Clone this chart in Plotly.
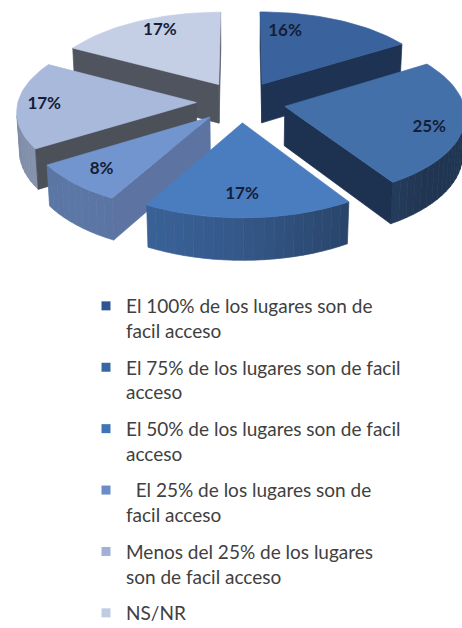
import numpy as np
import plotly.graph_objects as go

# Survey answers (legend order) and their shares in percent
categories = [
    "El 100% de los lugares son de<br>facil acceso",
    "El 75% de los lugares son de facil<br>acceso",
    "El 50% de los lugares son de facil<br>acceso",
    "\u00a0\u00a0El 25% de los lugares son de<br>facil acceso",
    "Menos del 25% de los lugares<br>son de facil acceso",
    "NS/NR",
]
values = [16, 25, 17, 8, 17, 17]

# Colours: top face, radial cut face, legend swatch
top_colors = ["#3A629D", "#4470AA", "#4A7CC0", "#7395CF", "#A9B9DC", "#C4CFE6"]
cut_colors = ["#1E3354", "#1D3151", "#2B4E80", "#5D74A2", "#4B5059", "#4F545E"]
legend_colors = ["#2F5592", "#3866A3", "#3F74B8", "#6A8CC8", "#A0B0D8", "#C0CBE3"]

# Percentage label placement on each top face (radius fraction, turn in degrees)
label_r = [0.72, 0.82, 0.77, 0.81, 0.85, 0.82]
label_turn = [-17, 5, 2, 0, 0, 4]

# Pseudo-3D view settings (pie radius = 1)
ELEV = np.radians(28.7)
SIN_E, COS_E = np.sin(ELEV), np.cos(ELEV)
DIST = 11 * COS_E
FOCAL = 1700.0
THICK = 0.25
PULL = 0.25
CAM = np.array([0.0, -DIST * COS_E, DIST * SIN_E])
LIGHT = np.array([-0.7071, -0.7071])


def project(u, v, z):
    u, v, z = np.asarray(u, float), np.asarray(v, float), np.asarray(z, float)
    depth = v * COS_E + DIST - z * SIN_E
    return FOCAL * u / depth, FOCAL * (v * SIN_E + z * COS_E) / depth


def direction(deg):
    r = np.radians(deg)
    return np.sin(r), np.cos(r)


def hex_rgb(h):
    h = h.lstrip("#")
    return np.array([int(h[i:i + 2], 16) for i in (0, 2, 4)], float)


def shade(h, k):
    r, g, b = np.clip(hex_rgb(h) * k, 0, 255).astype(int)
    return f"rgb({r},{g},{b})"


def facing(normal_uv, point):
    n = np.array([normal_uv[0], normal_uv[1], 0.0])
    return float(n @ (CAM - np.asarray(point))) > 0


def poly(xs, ys, color):
    return go.Scatter(
        x=list(xs) + [xs[0]], y=list(ys) + [ys[0]],
        mode="lines", fill="toself", fillcolor=color,
        line=dict(color=color, width=0.7),
        hoverinfo="skip", showlegend=False,
    )


fig = go.Figure()

total = float(sum(values))
starts = np.cumsum([0] + values[:-1]) / total * 360.0
spans = np.array(values) / total * 360.0

slices = []
for i, (a0, span) in enumerate(zip(starts, spans)):
    a1 = a0 + span
    mid = (a0 + a1) / 2
    du, dv = direction(mid)
    ou, ov = PULL * du, PULL * dv
    cu, cv = ou + 0.5 * du, ov + 0.5 * dv
    depth = cv * COS_E + DIST - THICK * SIN_E
    slices.append((depth, i, a0, a1, mid, ou, ov))

# painter's order: farthest slice first
slices.sort(key=lambda s: -s[0])

label_x, label_y, label_t = [], [], []
for depth, i, a0, a1, mid, ou, ov in slices:
    # curved outer wall, split into strips for shading
    edges = np.linspace(a0, a1, max(3, int(np.ceil((a1 - a0) / 3)) + 1))
    for ta, tb in zip(edges[:-1], edges[1:]):
        tm = (ta + tb) / 2
        nu, nv = direction(tm)
        pm = [ou + nu, ov + nv, THICK / 2]
        if not facing((nu, nv), pm):
            continue
        ua, va = direction(ta)
        ub, vb = direction(tb)
        us = [ou + ua, ou + ub, ou + ub, ou + ua]
        vs = [ov + va, ov + vb, ov + vb, ov + va]
        zs = [0, 0, THICK, THICK]
        px, py = project(us, vs, zs)
        k = 0.48 + 0.32 * max(0.0, nu * LIGHT[0] + nv * LIGHT[1])
        fig.add_trace(poly(px, py, shade(top_colors[i], k)))
    # radial cut faces
    for ang, sign in ((a0, -1), (a1, 1)):
        eu, ev = direction(ang)
        r = np.radians(ang)
        normal = (sign * np.cos(r), -sign * np.sin(r))
        pm = [ou + 0.5 * eu, ov + 0.5 * ev, THICK / 2]
        if not facing(normal, pm):
            continue
        us = [ou, ou + eu, ou + eu, ou]
        vs = [ov, ov + ev, ov + ev, ov]
        zs = [0, 0, THICK, THICK]
        px, py = project(us, vs, zs)
        fig.add_trace(poly(px, py, cut_colors[i]))
    # top face
    arc = np.linspace(a0, a1, max(4, int(np.ceil((a1 - a0) / 2)) + 1))
    us = [ou] + [ou + direction(t)[0] for t in arc]
    vs = [ov] + [ov + direction(t)[1] for t in arc]
    px, py = project(us, vs, [THICK] * len(us))
    fig.add_trace(poly(px, py, top_colors[i]))
    lu, lv = direction(mid + label_turn[i])
    lx, ly = project(ou + label_r[i] * lu, ov + label_r[i] * lv, THICK)
    label_x.append(float(lx))
    label_y.append(float(ly))
    label_t.append(f"<b>{values[i]}%</b>")

fig.add_trace(go.Scatter(
    x=label_x, y=label_y, text=label_t, mode="text",
    textfont=dict(family="Lato", size=17, color="#141E36"),
    hoverinfo="skip", showlegend=False,
))

# legend entries
for i, (name, col) in enumerate(zip(categories, legend_colors)):
    fig.add_trace(go.Scatter(
        x=[None], y=[None], mode="markers", name=name,
        marker=dict(symbol="square", size=9, color=col),
        legendgroup=f"g{i}",
    ))

W, H = 462, 628
CX, CY = 241, 141  # pie origin on the page, px from left/top
fig.update_layout(
    width=W, height=H,
    margin=dict(l=0, r=0, t=0, b=0, autoexpand=False),
    paper_bgcolor="white", plot_bgcolor="white",
    xaxis=dict(visible=False, range=[-CX, W - CX], fixedrange=True),
    yaxis=dict(visible=False, range=[CY - H, CY], fixedrange=True),
    showlegend=True,
    legend=dict(
        x=86 / W, y=1 - 287 / H, xanchor="left", yanchor="top",
        font=dict(family="Lato", size=19, color="#404040"),
        valign="top", tracegroupgap=9, bgcolor="rgba(0,0,0,0)",
    ),
)

fig.write_html("out.html")
